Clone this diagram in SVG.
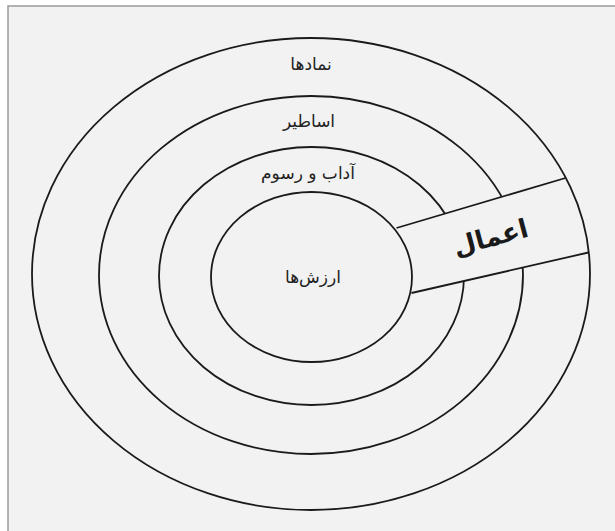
<svg xmlns="http://www.w3.org/2000/svg" width="615" height="531" viewBox="0 0 615 531">
<style>
.ring{fill:none;stroke:#1a1a1a;stroke-width:1.8}
.lbl{font-family:"DejaVu Sans",sans-serif;font-size:17px;fill:#222;text-anchor:middle}
.big{font-family:"DejaVu Sans",sans-serif;font-size:26px;font-weight:bold;fill:#1a1a1a;text-anchor:middle}
</style>
<rect x="0" y="0" width="615" height="531" fill="#ffffff"/>
<rect x="8" y="6" width="620" height="540" fill="#f2f2f2" stroke="#9a9a9a" stroke-width="1.5"/>
<g id="rings">
<ellipse id="ring-namadha" class="ring" cx="311" cy="274" rx="279" ry="236"/>
<ellipse id="ring-asatir" class="ring" cx="311" cy="275" rx="212" ry="179"/>
<ellipse id="ring-adab" class="ring" cx="311.5" cy="276" rx="152.5" ry="129"/>
<ellipse id="ring-arzesh" class="ring" cx="311.5" cy="277" rx="100.5" ry="85"/>
</g>
<g id="band-aamal">
<polygon points="420,221 535,187 555,260.2 436,287.4" fill="#f2f2f2"/>
<line class="ring" x1="396.5" y1="228" x2="565.5" y2="178"/>
<line class="ring" x1="411.5" y1="293" x2="588.5" y2="252.5"/>
<text class="big" transform="translate(493,246) rotate(-15)">اعمال</text>
</g>
<g id="labels">
<text class="lbl" x="311" y="70">نمادها</text>
<text class="lbl" x="309" y="127">اساطیر</text>
<text class="lbl" x="308" y="179">آداب و رسوم</text>
<text class="lbl" x="313" y="283">ارزش&#8204;ها</text>
</g>
</svg>
